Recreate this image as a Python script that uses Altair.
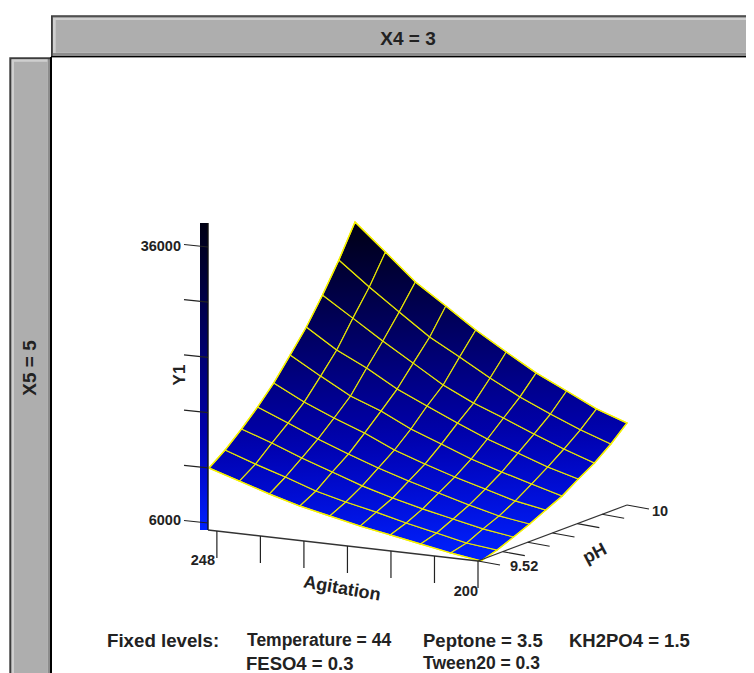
import altair as alt
import numpy as np
import pandas as pd

AGITATION = [250.0, 244.4, 238.9, 233.3, 227.8, 222.2, 216.7, 211.1, 205.6, 200.0]
PH = [9.52, 9.573, 9.627, 9.68, 9.733, 9.787, 9.84, 9.893, 9.947, 10.0]
# Y1 response, one row per pH value, one column per Agitation value
Y1_ROW_0 = [11980, 10940, 9900, 8970, 8260, 7540, 6950, 6340, 5740, 5240]
Y1_ROW_1 = [13270, 12120, 11090, 9940, 9120, 8400, 7590, 6870, 6160, 5770]
Y1_ROW_2 = [14890, 13740, 12490, 11340, 10200, 9260, 8450, 7730, 7020, 6520]
Y1_ROW_3 = [16620, 15250, 13890, 12630, 11490, 10450, 9520, 8590, 7770, 7270]
Y1_ROW_4 = [18570, 16870, 15510, 14250, 12780, 11630, 10600, 9660, 8740, 8130]
Y1_ROW_5 = [20940, 19020, 17230, 15970, 14390, 13130, 11880, 10840, 9910, 8980]
Y1_ROW_6 = [23320, 21190, 19610, 17700, 16230, 14750, 13390, 12240, 11100, 10160]
Y1_ROW_7 = [26130, 24000, 21880, 19860, 17850, 16260, 15010, 13640, 12390, 11240]
Y1_ROW_8 = [29270, 26710, 24370, 22020, 20230, 18320, 16630, 15150, 13800, 12640]
Y1_ROW_9 = [32740, 29850, 26970, 24730, 22500, 20480, 18580, 16990, 15410, 14260]
Y1 = [Y1_ROW_0, Y1_ROW_1, Y1_ROW_2, Y1_ROW_3, Y1_ROW_4,
      Y1_ROW_5, Y1_ROW_6, Y1_ROW_7, Y1_ROW_8, Y1_ROW_9]

Y1_TICKS = [6000, 12000, 18000, 24000, 30000, 36000]
AGITATION_TICKS = [248, 240, 232, 224, 216, 208, 200]
PH_TICKS = [9.52, 9.6, 9.68, 9.76, 9.84, 9.92, 10.0]

FONT = "Liberation Sans"
INK = "#222222"
COLOR_T = [0.0, 0.15, 0.32, 0.6, 0.85, 1.0]
COLOR_R = [0, 0, 0, 0, 0, 0]
COLOR_G = [34, 14, 0, 0, 0, 0]
COLOR_B = [255, 215, 170, 105, 50, 20]

Y_MIN, Y_MAX = 5240, 32740


def colour(v):
    t = (v - Y_MIN) / (Y_MAX - Y_MIN)
    return "#%02x%02x%02x" % (
        int(np.interp(t, COLOR_T, COLOR_R)),
        int(np.interp(t, COLOR_T, COLOR_G)),
        int(np.interp(t, COLOR_T, COLOR_B)),
    )


def project(a, ph, v):
    """Orthographic view of (Agitation, pH, Y1) onto picture pixels."""
    sx = 481 - (a - 200) * 5.44 + (ph - 9.52) * 304.2
    floor = 561 - (a - 200) * 0.62 - (ph - 9.52) * 114.6
    return sx, floor - (v - Y_MIN) / 108.7


def cell_gradient(pts, vals):
    """Linear gradient following the slope of Y1 across one cell's bounding box."""
    xs = np.array([p[0] for p in pts], dtype=float)
    ys = np.array([p[1] for p in pts], dtype=float)
    v = np.array(vals, dtype=float)
    u = (xs - xs.min()) / (xs.max() - xs.min())
    w = (ys - ys.min()) / (ys.max() - ys.min())
    coef = np.linalg.lstsq(np.column_stack([u, w, np.ones(4)]), v, rcond=None)[0]
    a, b, c = coef
    norm = a * a + b * b
    mid = c + 0.5 * a + 0.5 * b
    high, low = v.max(), v.min()
    k1 = (high - mid) / norm
    k2 = (low - mid) / norm
    return {
        "gradient": "linear",
        "x1": float(0.5 + a * k1), "y1": float(0.5 + b * k1),
        "x2": float(0.5 + a * k2), "y2": float(0.5 + b * k2),
        "stops": [{"offset": 0, "color": colour(high)},
                  {"offset": 1, "color": colour(low)}],
    }


X = alt.X("x:Q", scale=alt.Scale(domain=[8, 746]), axis=None)
Y = alt.Y("y:Q", scale=alt.Scale(domain=[673, 8]), axis=None)
X2 = alt.X2("x2:Q")
Y2 = alt.Y2("y2:Q")


def rect(x, x2, y, y2, fill):
    return (
        alt.Chart(pd.DataFrame({"x": [x], "x2": [x2], "y": [y], "y2": [y2]}))
        .mark_rect(fill=fill, opacity=1)
        .encode(x=X, x2=X2, y=Y, y2=Y2)
    )


def lines(segments, color, width):
    rows = [
        {"seg": s, "k": k, "x": px, "y": py}
        for s, pts in enumerate(segments)
        for k, (px, py) in enumerate(pts)
    ]
    return (
        alt.Chart(pd.DataFrame(rows))
        .mark_line(color=color, strokeWidth=width, clip=False)
        .encode(x=X, y=Y, detail="seg:N", order="k:Q")
    )


def label(text, x, y, size=14, angle=0, align="center"):
    return (
        alt.Chart(pd.DataFrame({"x": [x], "y": [y + 1], "t": [text]}))
        .mark_text(font=FONT, fontWeight="bold", fontSize=size, angle=angle,
                   align=align, baseline="middle", color=INK)
        .encode(x=X, y=Y, text="t:N")
    )


layers = []

# Header and side panels
layers += [
    rect(51, 746, 15.3, 57.3, "#3c3c3c"),
    rect(52.7, 746, 16.7, 56, "#8c8c8c"),
    rect(53, 746, 17.7, 53, "#cfcfcf"),
    rect(55.7, 746, 20, 52.7, "#aeaeae"),
    rect(51, 746, 56, 57.3, "#000000"),
    rect(9.3, 52, 57.3, 673, "#3c3c3c"),
    rect(11, 50, 59.3, 673, "#8c8c8c"),
    rect(11.7, 47.7, 59.3, 673, "#cfcfcf"),
    rect(14, 47.7, 61.7, 673, "#aeaeae"),
    rect(50, 52, 57, 673, "#000000"),
    label("X4 = 3", 408, 38, 19),
    label("X5 = 5", 30, 367, 19, angle=270),
]

# Colour bar
bar_stops = [{"offset": 1 - t, "color": "#%02x%02x%02x" % (r, g, b)}
             for t, r, g, b in zip(COLOR_T, COLOR_R, COLOR_G, COLOR_B)][::-1]
layers.append(
    alt.Chart(pd.DataFrame({"x": [200], "x2": [208], "y": [223], "y2": [530]}))
    .mark_rect(fill={"gradient": "linear", "x1": 0, "y1": 0, "x2": 0, "y2": 1, "stops": bar_stops})
    .encode(x=X, x2=X2, y=Y, y2=Y2)
)

# Surface cells
proj = dict(type="identity", scale=1, translate=[0, 0])
for j in range(len(PH) - 1):
    for i in range(len(AGITATION) - 1):
        corners = [(j, i), (j, i + 1), (j + 1, i + 1), (j + 1, i)]
        pts = [project(AGITATION[c], PH[r], Y1[r][c]) for r, c in corners]
        vals = [Y1[r][c] for r, c in corners]
        ring = [[float(px - 8), float(py - 8)] for px, py in pts]
        ring.append(ring[0])
        feature = {
            "type": "Feature",
            "properties": {"cell": f"{j}-{i}"},
            "geometry": {"type": "Polygon", "coordinates": [ring]},
        }
        layers.append(
            alt.Chart(alt.Data(values=[feature]))
            .mark_geoshape(fill=cell_gradient(pts, vals), stroke="#e8e600", strokeWidth=1.15)
            .project(**proj)
        )

# Surface outline
last_j, last_i = len(PH) - 1, len(AGITATION) - 1
outline = (
    [project(AGITATION[i], PH[0], Y1[0][i]) for i in range(last_i + 1)]
    + [project(AGITATION[last_i], PH[j], Y1[j][last_i]) for j in range(1, last_j + 1)]
    + [project(AGITATION[i], PH[last_j], Y1[last_j][i]) for i in range(last_i - 1, -1, -1)]
    + [project(AGITATION[0], PH[j], Y1[j][0]) for j in range(last_j - 1, -1, -1)]
)
layers.append(lines([outline], "#f6f200", 1.4))

# Vertical axis
layers.append(lines([[(208, 223), (208, 530)]], "#111111", 1.4))
z_ticks = []
for v in Y1_TICKS:
    yy = 530 - (v - Y_MIN) / 108.7
    z_ticks.append([(208, yy), (184, yy - 2.5)])
layers.append(lines(z_ticks, "#222222", 1.2))

# Agitation axis
layers.append(lines([[(208, 530), (478, 561)]], "#333333", 1.4))
a_ticks = []
for a in AGITATION_TICKS:
    ax = 478 - (a - 200) * 5.44
    ay = 561 - (a - 200) * 0.625
    a_ticks.append([(ax, ay), (ax, ay + 27)])
layers.append(lines(a_ticks, "#222222", 1.2))

# pH axis
layers.append(lines([[(478, 561), (627, 505)]], "#333333", 1.2))
p_ticks = []
for p in PH_TICKS:
    px = 478 + (p - 9.52) * 310.4
    py = 561 - (p - 9.52) * 116.7
    p_ticks.append([(px, py), (px + 22, py + 4)])
layers.append(lines(p_ticks, "#222222", 1.1))

# Tick and axis labels
layers += [
    label("36000", 181, 246, 14.5, align="right"),
    label("6000", 181, 520, 14.5, align="right"),
    label("Y1", 180, 374, 17, angle=270),
    label("248", 215, 560, 14.5, align="right"),
    label("200", 478, 591, 14.5, align="right"),
    label("Agitation", 342, 588, 18, angle=10),
    label("9.52", 510, 566, 14.5, align="left"),
    label("10", 652, 511, 14.5, align="left"),
    label("pH", 595, 553, 18, angle=332),
    label("Fixed levels:", 107, 640, 18.7, align="left"),
    label("Temperature = 44", 247, 640, 17.5, align="left"),
    label("Peptone = 3.5", 423, 640, 18.5, align="left"),
    label("KH2PO4 = 1.5", 569, 640, 18.5, align="left"),
    label("FESO4 = 0.3", 246, 663, 18.5, align="left"),
    label("Tween20 = 0.3", 423, 663, 17.5, align="left"),
]

chart = (
    alt.layer(*layers)
    .properties(width=738, height=665, padding=0, background="white")
    .configure_view(stroke=None)
)
chart.save("out.html", embed_options={"renderer": "svg", "actions": False})
